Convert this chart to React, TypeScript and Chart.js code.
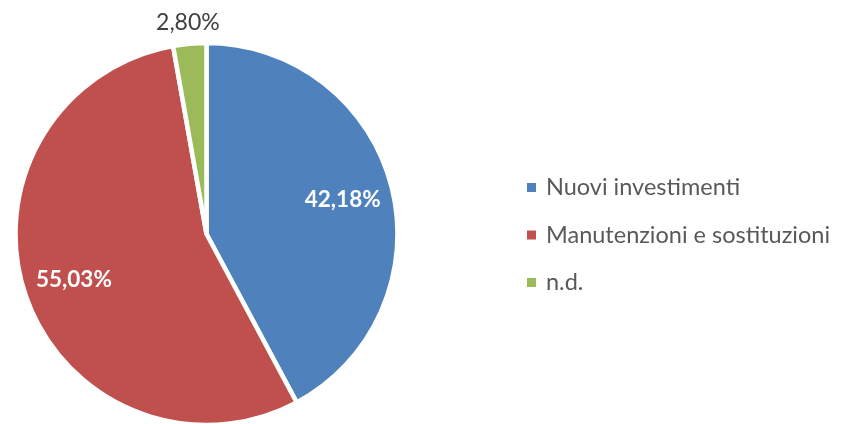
import React, { useEffect, useRef } from "react";
import { Chart, registerables } from "chart.js";

Chart.register(...registerables);

const categories = ["Nuovi investimenti", "Manutenzioni e sostituzioni", "n.d."];
const values = [42.18, 55.03, 2.8];
const colors = ["#4F81BD", "#C0504D", "#9BBB59"];

const FONT = "Lato, 'Open Sans', sans-serif";

const fmt = (v: number) => v.toFixed(2).replace(".", ",") + "%";

const labelPlugin = {
  id: "sliceLabels",
  afterDatasetsDraw(chart: any) {
    const ctx = chart.ctx;
    const meta = chart.getDatasetMeta(0);
    meta.data.forEach((arc: any, i: number) => {
      const { x, y, startAngle, endAngle, outerRadius } = arc.getProps(
        ["x", "y", "startAngle", "endAngle", "outerRadius"],
        true
      );
      const mid = (startAngle + endAngle) / 2;
      const share = values[i] / values.reduce((a, b) => a + b, 0);
      const outside = share < 0.05;
      const dist = outside ? outerRadius + 21 : outerRadius * 0.735;
      const lx = x + Math.cos(mid) * dist;
      const ly = y + Math.sin(mid) * dist;
      ctx.save();
      ctx.textAlign = "center";
      ctx.textBaseline = "middle";
      if (outside) {
        ctx.font = `23px ${FONT}`;
        ctx.fillStyle = "#404040";
      } else {
        ctx.font = `bold 22.5px ${FONT}`;
        ctx.fillStyle = "#FFFFFF";
      }
      ctx.fillText(fmt(values[i]), lx, ly);
      ctx.restore();
    });
  },
};

const legendPlugin = {
  id: "sideLegend",
  afterDraw(chart: any) {
    const ctx = chart.ctx;
    const rowsY = [187.5, 235, 282.5];
    ctx.save();
    ctx.font = `23.5px ${FONT}`;
    ctx.textBaseline = "middle";
    ctx.textAlign = "left";
    categories.forEach((c, i) => {
      const cy = rowsY[i];
      ctx.fillStyle = colors[i];
      ctx.fillRect(527, cy - 4.5, 9, 9);
      ctx.fillStyle = "#595959";
      ctx.fillText(c, 546, cy);
    });
    ctx.restore();
  },
};

export default function App() {
  const ref = useRef<HTMLCanvasElement | null>(null);
  useEffect(() => {
    if (!ref.current) return;
    const chart = new Chart(ref.current, {
      type: "pie",
      data: {
        labels: categories,
        datasets: [
          {
            data: values,
            backgroundColor: colors,
            borderColor: "#FFFFFF",
            borderWidth: 4.5,
            hoverOffset: 0,
          },
        ],
      },
      options: {
        responsive: false,
        animation: false,
        radius: 191,
        layout: { padding: { left: 16, right: 455, top: 44, bottom: 0 } },
        plugins: {
          legend: { display: false },
          tooltip: { enabled: false },
        },
      } as any,
      plugins: [labelPlugin, legendPlugin],
    });
    return () => chart.destroy();
  }, []);
  return (
    <div style={{ position: "absolute", left: 0, top: 0, width: 852, height: 424, background: "#fff" }}>
      <canvas ref={ref} width={852} height={424} />
    </div>
  );
}
